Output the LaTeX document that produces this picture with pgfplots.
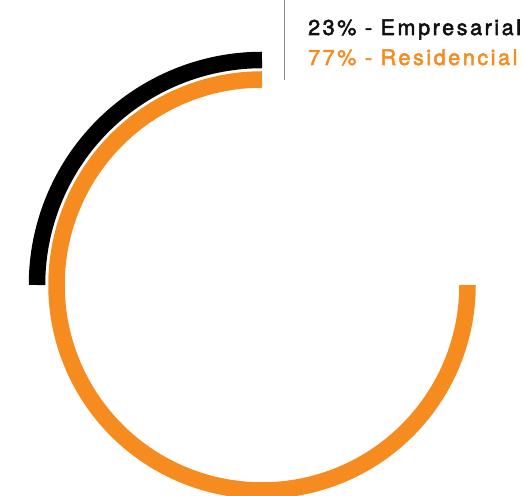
\documentclass[border=0pt]{standalone}
\usepackage{pgfplots}
\usepgfplotslibrary{polar}
\pgfplotsset{compat=1.18}
\usepackage{fontspec}
\setmainfont{TeX Gyre Heros}[LetterSpace=12, FakeBold=2.5]
\definecolor{orng}{HTML}{F68B1F}
\definecolor{txtblack}{HTML}{111111}
\begin{document}
\begin{tikzpicture}[x=1bp,y=1bp]
\useasboundingbox (0,0) rectangle (523,496);
\begin{polaraxis}[
  at={(262bp,211bp)}, anchor=center,
  scale only axis, width=500bp, height=500bp,
  xmin=0, xmax=360, ymin=0, ymax=250,
  hide axis, clip=false,
]
% Empresarial: arc from 90 to 180 degrees at radius 225
\addplot[black, line width=16.5bp, domain=90:180, samples=91, no marks] {225};
% Residencial: arc from 90 to 360 degrees at radius 205.5
\addplot[orng, line width=16.5bp, domain=90:360, samples=271, no marks] {205.5};
\end{polaraxis}
\draw[color=black!45, line width=1.3bp] (284.5,496) -- (284.5,416);
\node[anchor=base west, inner sep=0pt, text=txtblack, font=\fontsize{21.5bp}{24bp}\selectfont] at (308,461) {23\% - Empresarial};
\node[anchor=base west, inner sep=0pt, text=orng, font=\fontsize{21.5bp}{24bp}\selectfont] at (308,431) {77\% - Residencial};
\end{tikzpicture}
\end{document}
